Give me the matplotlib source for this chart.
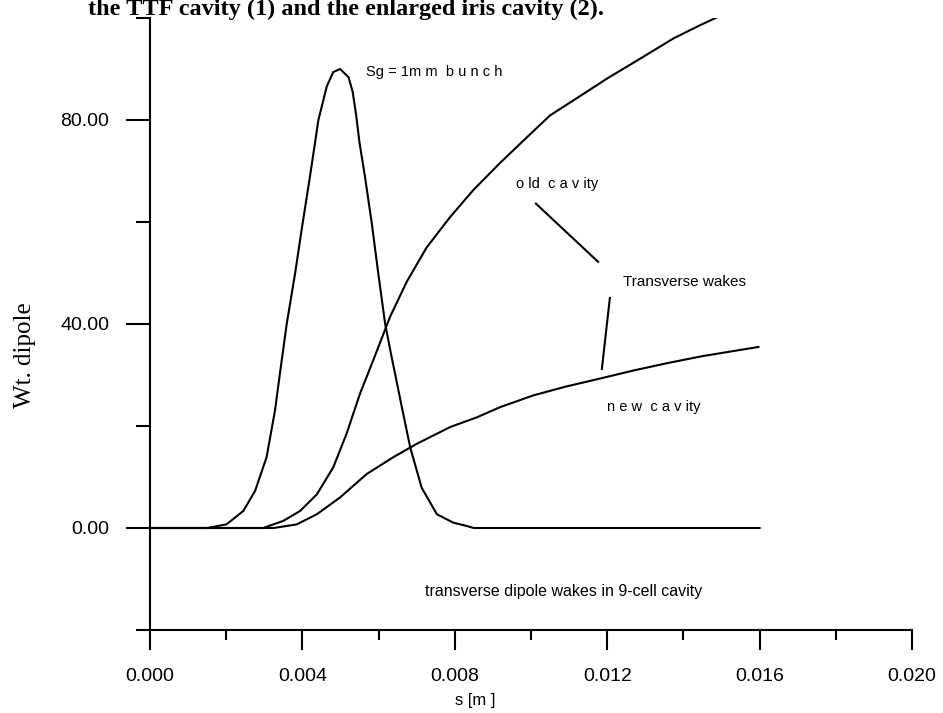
import numpy as np
import matplotlib
matplotlib.use("Agg")
import matplotlib.pyplot as plt
from matplotlib.ticker import FixedLocator, FormatStrFormatter

# bunch profile (Sig = 1 mm)
bunch_s = [0.0, 0.0015, 0.00201, 0.00245, 0.00276, 0.00306, 0.00328, 0.00341, 0.00359,
           0.00381, 0.00398, 0.0042, 0.00442, 0.00464, 0.00481, 0.00499,
           0.00521, 0.00532, 0.00541, 0.0055, 0.00564, 0.00582, 0.00599, 0.00617, 0.00634,
           0.00648, 0.00661, 0.00683, 0.00713, 0.00753, 0.00796, 0.00831, 0.0085, 0.016]
bunch_v = [0.0, 0.0, 0.72, 3.35, 7.3, 13.9, 23.0, 30.3, 40.1,
           50.0, 58.5, 69.0, 80.0, 86.6, 89.4, 90.0,
           88.4, 85.5, 81.0, 75.5, 69.0, 59.8, 50.0, 40.1, 33.6,
           28.5, 23.7, 15.8, 7.9, 2.7, 1.05, 0.4, 0.0, 0.0]

# old cavity transverse wake
old_s = [0.0, 0.00297, 0.0035, 0.00394, 0.00438, 0.00481, 0.00516, 0.00551, 0.00586,
         0.0063, 0.00674, 0.00726, 0.00788, 0.00849, 0.00919, 0.00985, 0.0105, 0.01129,
         0.01199, 0.01286, 0.01374, 0.01444, 0.01496]
old_v = [0.0, 0.0, 1.4, 3.35, 6.6, 11.9, 18.5, 26.3, 32.9,
         41.4, 48.3, 55.0, 61.0, 66.3, 71.6, 76.3, 80.9, 84.7,
         88.1, 92.0, 96.0, 98.6, 100.4]

# new cavity transverse wake
new_s = [0.0, 0.00324, 0.00385, 0.00438, 0.00499, 0.00569, 0.00639, 0.007, 0.00788,
         0.00858, 0.00919, 0.01006, 0.0109, 0.01181, 0.0127, 0.01356, 0.0145, 0.01597]
new_v = [0.0, 0.0, 0.7, 2.7, 6.0, 10.6, 13.9, 16.5, 19.8,
         21.7, 23.7, 26.0, 27.7, 29.3, 30.9, 32.3, 33.7, 35.5]

x_major = [0.0, 0.004, 0.008, 0.012, 0.016, 0.020]
x_minor = [0.002, 0.006, 0.010, 0.014, 0.018]
y_major = [0.0, 40.0, 80.0]
y_minor = [-20.0, 20.0, 60.0, 100.0]

sans = "Liberation Sans"
serif = "Liberation Serif"

fig = plt.figure(figsize=(9.43, 7.13), dpi=100)
ax = fig.add_axes([150 / 943, 1 - 630 / 713, 762 / 943, 612 / 713])

lw = 1.5
ax.plot(bunch_s, bunch_v, color="black", lw=lw)
ax.plot(old_s, old_v, color="black", lw=lw)
ax.plot(new_s, new_v, color="black", lw=lw)

ax.set_xlim(0.0, 0.020)
ax.set_ylim(-20, 100)

for side in ["top", "right"]:
    ax.spines[side].set_visible(False)
for side in ["left", "bottom"]:
    ax.spines[side].set_linewidth(lw)

ax.xaxis.set_major_locator(FixedLocator(x_major))
ax.xaxis.set_minor_locator(FixedLocator(x_minor))
ax.yaxis.set_major_locator(FixedLocator(y_major))
ax.yaxis.set_minor_locator(FixedLocator(y_minor))
ax.xaxis.set_major_formatter(FormatStrFormatter("%.3f"))
ax.yaxis.set_major_formatter(FormatStrFormatter("%.2f"))

ax.tick_params(axis="x", which="major", direction="out", length=14.4, width=lw, pad=13)
ax.tick_params(axis="x", which="minor", direction="out", length=7.2, width=lw)
ax.tick_params(axis="y", which="major", direction="out", length=17.3, width=lw, pad=12)
ax.tick_params(axis="y", which="minor", direction="out", length=10, width=lw)
for lab in ax.get_xticklabels() + ax.get_yticklabels():
    lab.set_fontfamily(sans)
    lab.set_fontsize(14)

# annotations
ax.text(0.00567, 89.5, "Sg = 1m m  b u n c h", family=sans, fontsize=10.5, va="center")
ax.text(0.00961, 67.5, "o ld  c a v ity", family=sans, fontsize=10.5, va="center")
ax.text(0.01241, 48.2, "Transverse wakes", family=sans, fontsize=11, va="center")
ax.text(0.01200, 23.8, "n e w  c a v ity", family=sans, fontsize=10.5, va="center")
ax.text(0.00722, -12.4, "transverse dipole wakes in 9-cell cavity", family=sans,
        fontsize=11.5, va="center")

ax.plot([0.01013, 0.01176], [63.6, 52.2], color="black", lw=lw)
ax.plot([0.01207, 0.01186], [45.1, 31.2], color="black", lw=lw)

fig.text(475 / 943, 1 - 700 / 713, "s [m ]", family=sans, fontsize=12,
         ha="center", va="center")
fig.text(25 / 943, 1 - 355 / 713, "Wt. dipole", family=serif, fontsize=18,
         rotation=90, ha="center", va="center")
fig.text(88 / 943, 1 - 15 / 713, "the TTF cavity (1) and the enlarged iris cavity (2).",
         family=serif, fontsize=17.5, fontweight="bold", va="baseline", ha="left")

fig.savefig("out.png", dpi=100)
